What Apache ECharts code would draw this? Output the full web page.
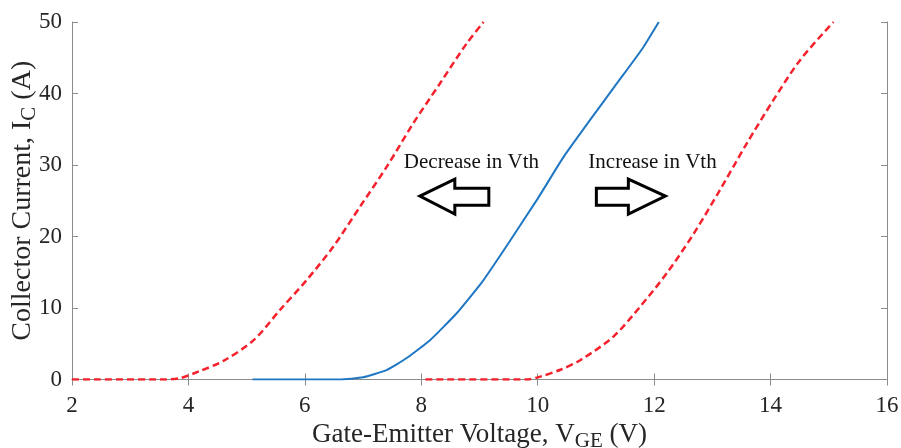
<!DOCTYPE html>
<html>
<head>
<meta charset="utf-8">
<script src="https://cdn.jsdelivr.net/npm/echarts@6/dist/echarts.min.js"></script>
<style>html,body{margin:0;padding:0;background:#fff;}#c{width:901px;height:448px;}</style>
</head>
<body>
<div id="c"></div>
<script>
// Nominal characteristic (solid blue)
const nominalX = [5.1, 6.6, 7.0, 7.4, 7.75, 8.15, 8.6, 9.05, 9.5, 10.0, 10.45, 10.9, 11.35, 11.8, 12.08];
const nominalY = [0, 0, 0.3, 1.3, 3.0, 5.5, 9.2, 13.7, 19.1, 25.3, 31.2, 36.3, 41.3, 46.3, 50];
// Decreased Vth (left dashed red)
const lowVthX = [2.0, 3.6, 3.86, 4.2, 4.6, 5.12, 5.57, 6.03, 6.49, 6.95, 7.41, 7.86, 8.32, 8.78, 9.07];
const lowVthY = [0, 0, 0.2, 1.2, 2.6, 5.5, 9.7, 13.9, 18.6, 24.2, 29.8, 35.8, 41.4, 47.0, 50];
// Increased Vth (right dashed red)
const highVthX = [8.07, 9.8, 10.04, 10.4, 10.73, 11.3, 11.76, 12.22, 12.68, 13.13, 13.59, 14.05, 14.51, 15.08];
const highVthY = [0, 0, 0.4, 1.4, 2.7, 6.0, 10.2, 14.9, 20.4, 26.5, 33.0, 39.1, 44.7, 50];
// Axis ticks
const xTicks = {min: 2, max: 16, interval: 2};
const yTicks = {min: 0, max: 50, interval: 10};
// Annotations (data coordinates of text left / center)
const annotations = [
  {text: 'Decrease in Vth', x: 7.70, y: 30.4},
  {text: 'Increase in Vth', x: 10.87, y: 30.4}
];

const zip = (xs, ys) => xs.map((v, i) => [v, ys[i]]);
const FONT = '"Liberation Serif", "Times New Roman", serif';
const AX = '#8c8c8c';
const TXT = '#262626';

const chart = echarts.init(document.getElementById('c'));
const baseAxis = {
  type: 'value',
  axisLine: {show: true, lineStyle: {color: AX, width: 1}},
  axisTick: {show: true, inside: true, length: 6, lineStyle: {color: AX}},
  splitLine: {show: false}
};
chart.setOption({
  animation: false,
  backgroundColor: '#fff',
  grid: {left: 72, top: 22, right: 14, bottom: 68.5, containLabel: false, outerBoundsMode: 'none'},
  xAxis: [
    Object.assign({}, baseAxis, xTicks, {
      position: 'bottom',
      axisLabel: {fontFamily: FONT, fontSize: 23, color: TXT, margin: 14.5},
      name: 'Gate-Emitter Voltage, V{sub|GE} (V)',
      nameLocation: 'middle', nameGap: 29.5,
      nameTextStyle: {fontFamily: FONT, fontSize: 27, color: TXT,
        rich: {sub: {fontFamily: FONT, fontSize: 21, color: TXT, padding: [13, 0, 0, 0]}}}
    }),
    Object.assign({}, baseAxis, xTicks, {position: 'top', axisLabel: {show: false}})
  ],
  yAxis: [
    Object.assign({}, baseAxis, yTicks, {
      position: 'left',
      axisLabel: {fontFamily: FONT, fontSize: 23, color: TXT, margin: 10},
      name: 'Collector Current, I{sub|C} (A)',
      nameLocation: 'middle', nameGap: 32, nameMoveOverlap: false,
      nameTextStyle: {fontFamily: FONT, fontSize: 28, color: TXT,
        rich: {sub: {fontFamily: FONT, fontSize: 21, color: TXT, padding: [13, 0, 0, 0]}}}
    }),
    Object.assign({}, baseAxis, yTicks, {position: 'right', axisLabel: {show: false}})
  ],
  series: [
    {type: 'line', data: zip(lowVthX, lowVthY), showSymbol: false, smooth: 0.3,
      lineStyle: {color: '#f5222d', width: 2.5, type: [7, 4]}},
    {type: 'line', data: zip(highVthX, highVthY), showSymbol: false, smooth: 0.3,
      lineStyle: {color: '#f5222d', width: 2.5, type: [7, 4]}},
    {type: 'line', data: zip(nominalX, nominalY), showSymbol: false, smooth: 0.15,
      lineStyle: {color: '#1f77c4', width: 2}}
  ]
});

const graphics = [];
annotations.forEach(a => {
  const p = chart.convertToPixel({xAxisIndex: 0, yAxisIndex: 0}, [a.x, a.y]);
  graphics.push({type: 'text', x: p[0], y: p[1],
    style: {text: a.text, fontFamily: FONT, fontSize: 21, fill: '#111', verticalAlign: 'middle', align: 'left'}});
});
// Block arrows anchored below each annotation
const pL = chart.convertToPixel({xAxisIndex: 0, yAxisIndex: 0}, [annotations[0].x, annotations[0].y]);
const pR = chart.convertToPixel({xAxisIndex: 0, yAxisIndex: 0}, [annotations[1].x, annotations[1].y]);
const leftArrow = [[0, 0], [35, -17], [35, -8], [69, -8], [69, 9], [35, 9], [35, 18]];
const rightArrow = [[0, -8], [32, -8], [32, -17], [69, 0], [32, 18], [32, 9], [0, 9]];
graphics.push({type: 'polygon', shape: {points: leftArrow.map(q => [pL[0] + 16 + q[0], pL[1] + 34 + q[1]])},
  style: {fill: '#fff', stroke: '#000', lineWidth: 3, lineJoin: 'miter'}});
graphics.push({type: 'polygon', shape: {points: rightArrow.map(q => [pR[0] + 8 + q[0], pR[1] + 34 + q[1]])},
  style: {fill: '#fff', stroke: '#000', lineWidth: 3, lineJoin: 'miter'}});
chart.setOption({graphic: graphics});
</script>
</body>
</html>
